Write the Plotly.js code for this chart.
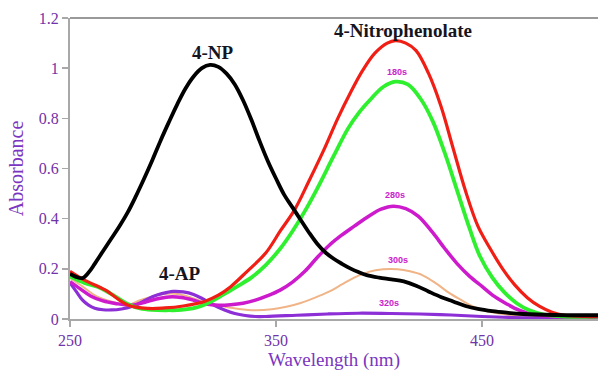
<!DOCTYPE html>
<html>
<head>
<meta charset="utf-8">
<script src="https://cdn.plot.ly/plotly-3.0.1.min.js"></script>
<style>html,body{margin:0;padding:0;background:#fff;}#chart{width:598px;height:371px;}</style>
</head>
<body>
<div id="chart"></div>
<script>
// 4-NP (black)
const npX = [250,253,256,259,262,266,270,274,278,282,286,290,294,298,302,306,310,314,318,322,326,330,334,338,342,346,350,354,358,362,366,370,374,378,382,386,390,394,400,406,412,418,424,430,436,442,448,455,462,470,485,507];
const npY = [0.18,0.168,0.163,0.185,0.22,0.27,0.32,0.37,0.425,0.49,0.56,0.634,0.712,0.785,0.855,0.918,0.967,1.0,1.013,1.005,0.978,0.935,0.872,0.795,0.71,0.63,0.56,0.495,0.445,0.395,0.345,0.3,0.265,0.24,0.22,0.202,0.187,0.175,0.165,0.158,0.15,0.133,0.11,0.088,0.07,0.052,0.04,0.031,0.025,0.02,0.016,0.015];

// red (4-nitrophenolate)
const redX = [250,257,267,278,288,296,305,315,322,328,336,345,352,359,366,373,380,386,392,398,404,408,413,418,424,430,436,442,448,454,460,466,472,478,484,490,500,507];
const redY = [0.19,0.155,0.116,0.056,0.042,0.044,0.052,0.069,0.095,0.129,0.19,0.263,0.35,0.435,0.55,0.67,0.8,0.9,0.99,1.06,1.1,1.11,1.1,1.07,0.98,0.85,0.68,0.51,0.37,0.28,0.2,0.135,0.085,0.05,0.027,0.015,0.01,0.01];

// green (180s)
const greenX = [250,257,265,271,278,284,290,298,304,311,317,324,331,338,345,352,358,364,370,378,385,390,395.6,402,408,414,420,426,432,438,444,449,455,461,467,473,480,490,507];
const greenY = [0.17,0.144,0.123,0.095,0.06,0.042,0.036,0.035,0.036,0.045,0.064,0.095,0.129,0.165,0.215,0.28,0.35,0.43,0.52,0.65,0.76,0.82,0.873,0.925,0.946,0.935,0.88,0.79,0.66,0.51,0.36,0.25,0.165,0.105,0.062,0.035,0.018,0.01,0.01];

// magenta (280s)
const magX = [250,255,260,266,272,280,286,292,298,304,310,316,322,328,334,340,346,352,358,364,370,376,382,388,395,401,407,413,419,426,432,438,444,450,456,462,468,475,485,507];
const magY = [0.149,0.12,0.092,0.072,0.062,0.055,0.066,0.08,0.088,0.086,0.075,0.06,0.055,0.057,0.063,0.075,0.093,0.115,0.147,0.19,0.245,0.295,0.335,0.37,0.41,0.438,0.45,0.44,0.41,0.345,0.28,0.22,0.17,0.13,0.09,0.06,0.035,0.018,0.01,0.008];

// tan (300s)
const tanX = [250,256,263,270,278,284,290,296,302,308,314,320,326,332,340,348,355,362,368,376,382,388,395,402,409,415,421,428,434,440,445,450,456,465,480,507];
const tanY = [0.163,0.13,0.09,0.07,0.056,0.075,0.09,0.1,0.1,0.088,0.07,0.058,0.048,0.04,0.035,0.039,0.049,0.064,0.082,0.11,0.138,0.165,0.188,0.198,0.198,0.19,0.175,0.14,0.104,0.075,0.052,0.036,0.025,0.015,0.01,0.01];

// purple (320s)
const purX = [250,253,256,259,262,266,270,275,280,285,290,295,300,305,310,315,320,325,330,335,340,345,360,375,390,405,420,435,450,465,480,507];
const purY = [0.144,0.11,0.076,0.055,0.043,0.037,0.036,0.04,0.05,0.068,0.089,0.102,0.11,0.108,0.098,0.078,0.055,0.036,0.022,0.014,0.01,0.01,0.015,0.02,0.023,0.022,0.02,0.016,0.01,0.006,0.005,0.005];

const xTicks = [250,350,450];
const yTicks = [0,0.2,0.4,0.6,0.8,1,1.2];
const yTickText = ['0','0.2','0.4','0.6','0.8','1','1.2'];

const labelFont = {family:'Liberation Serif', size:19, color:'#15151f'};
const timeFont = {family:'Liberation Sans, Arial', size:9, color:'#cc22cc'};

function tr(x,y,color,width){
  return {x:x,y:y,type:'scatter',mode:'lines',line:{color:color,width:width,shape:'spline',smoothing:1},hoverinfo:'skip'};
}

const data = [
  tr(tanX,tanY,'#f0b487',2),
  tr(purX,purY,'#8d2fd6',3.2),
  tr(magX,magY,'#cc1acc',3.5),
  tr(greenX,greenY,'#2ef02e',3.8),
  tr(redX,redY,'#f01e14',3.2),
  tr(npX,npY,'#000000',3.8)
];

const layout = {
  width:598, height:371,
  margin:{l:70,r:0,t:18,b:52},
  paper_bgcolor:'#ffffff', plot_bgcolor:'#ffffff',
  showlegend:false,
  xaxis:{
    range:[250,506.3], tickvals:xTicks, ticktext:xTicks.map(String),
    showgrid:false, zeroline:false, showline:true, linecolor:'#a8a8a8', linewidth:2,
    ticks:'outside', ticklen:6, tickcolor:'#a8a8a8', tickwidth:1.5,
    tickfont:{family:'Liberation Serif', size:16, color:'#7033a8'},
    title:{text:'Wavelength (nm)', font:{family:'Liberation Serif', size:19, color:'#7a36c0'}, standoff:12}
  },
  yaxis:{
    range:[0,1.2], tickvals:yTicks, ticktext:yTickText,
    showgrid:false, zeroline:false, showline:true, linecolor:'#a8a8a8', linewidth:2,
    ticks:'outside', ticklen:6, tickcolor:'#a8a8a8', tickwidth:1.5,
    tickfont:{family:'Liberation Serif', size:16, color:'#7033a8'},
    title:{text:'Absorbance', font:{family:'Liberation Serif', size:20, color:'#7a36c0'}, standoff:10}
  },
  shapes:[
    {type:'line', xref:'paper', yref:'paper', x0:0, x1:1, y0:1, y1:1, line:{color:'#999999', width:2}}
  ],
  annotations:[
    {x:319.4, y:1.064, xref:'x', yref:'y', text:'<b>4-NP</b>', showarrow:false, font:labelFont},
    {x:411.7, y:1.152, xref:'x', yref:'y', text:'<b>4-Nitrophenolate</b>', showarrow:false, font:labelFont},
    {x:303.4, y:0.18, xref:'x', yref:'y', text:'<b>4-AP</b>', showarrow:false, font:labelFont},
    {x:408.7, y:0.985, xref:'x', yref:'y', text:'<b>180s</b>', showarrow:false, font:timeFont},
    {x:407.8, y:0.494, xref:'x', yref:'y', text:'<b>280s</b>', showarrow:false, font:timeFont},
    {x:409.2, y:0.235, xref:'x', yref:'y', text:'<b>300s</b>', showarrow:false, font:timeFont},
    {x:405, y:0.063, xref:'x', yref:'y', text:'<b>320s</b>', showarrow:false, font:timeFont}
  ]
};

Plotly.newPlot('chart', data, layout, {displayModeBar:false, staticPlot:true});
</script>
</body>
</html>
